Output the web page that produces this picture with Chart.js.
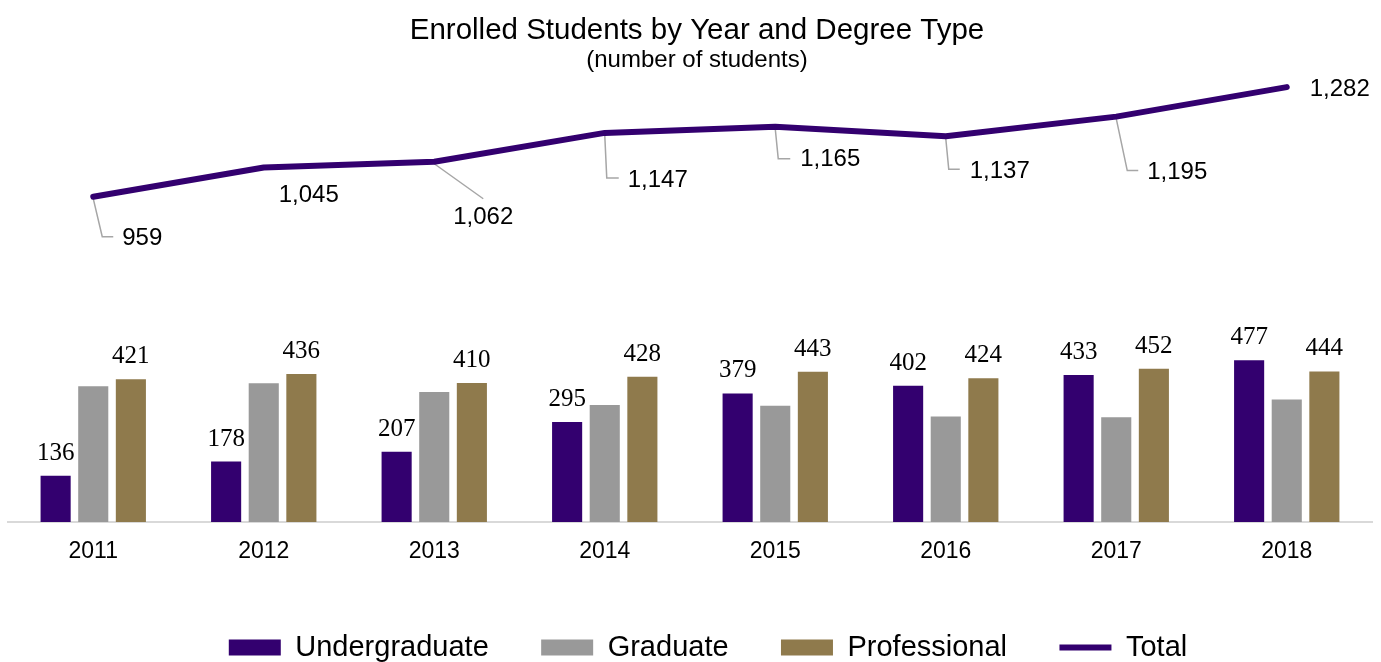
<!DOCTYPE html>
<html>
<head>
<meta charset="utf-8">
<script src="https://cdn.jsdelivr.net/npm/chart.js@4/dist/chart.umd.min.js"></script>
<style>
  html, body { margin: 0; padding: 0; background: #ffffff; }
  #wrap { width: 1381px; height: 662px; }
</style>
</head>
<body>
<div id="wrap"><canvas id="c" width="1381" height="662"></canvas></div>
<script>
// ---- data ----
const years = ['2011', '2012', '2013', '2014', '2015', '2016', '2017', '2018'];
const undergraduate = [136, 178, 207, 295, 379, 402, 433, 477];
const graduate = [400, 409, 383, 345, 343, 311, 309, 361];
const professional = [421, 436, 410, 428, 443, 424, 452, 444];
const total = [959, 1045, 1062, 1147, 1165, 1137, 1195, 1282];

const titleText = 'Enrolled Students by Year and Degree Type';
const subtitleText = '(number of students)';

// ---- styles ----
const PURPLE = '#33006F';
const GRAY = '#999999';
const GOLD = '#8F7A4C';
const SANS = '"Liberation Sans", Arial, sans-serif';
const SERIF = '"Liberation Serif", "Times New Roman", serif';

// label placement for the Total series (pixel offsets from each point)
const totalLabelPlacement = [
  { text: [29, 42], align: 'left', leader: [[0, 2], [9, 40], [20, 40]] },
  { text: [45, 28], align: 'center', leader: null },
  { text: [49, 56], align: 'center', leader: [[0, 2], [49, 37]] },
  { text: [23, 47], align: 'left', leader: [[0, 2], [2, 45], [14, 45]] },
  { text: [25, 33], align: 'left', leader: [[0, 2], [3, 32], [15, 32]] },
  { text: [24, 35], align: 'left', leader: [[0, 2], [3, 33], [14, 33]] },
  { text: [31, 56], align: 'left', leader: [[0, 2], [11, 54], [22, 54]] },
  { text: [23, 2], align: 'left', leader: null }
];

// horizontal nudges of the header and legend blocks
const blockShift = { title: 7, subtitle: 7, legend: 18 };

const fmt = v => v.toLocaleString('en-US');

const labelsPlugin = {
  id: 'customLabels',
  afterLayout(chart) {
    chart.boxes.forEach(b => {
      let s = 0;
      if (b === chart.legend) s = blockShift.legend;
      else if (b.options && b.options.text === titleText) s = blockShift.title;
      else if (b.options && b.options.text === subtitleText) s = blockShift.subtitle;
      if (s) { b.left += s; b.right += s; }
    });
  },
  beforeDatasetsDraw(chart) {
    const ctx = chart.ctx;
    const meta = chart.getDatasetMeta(3);
    ctx.save();
    ctx.strokeStyle = '#A6A6A6';
    ctx.lineWidth = 1.5;
    meta.data.forEach((pt, i) => {
      const p = totalLabelPlacement[i];
      if (!p.leader) return;
      ctx.beginPath();
      p.leader.forEach(([dx, dy], k) => {
        if (k === 0) ctx.moveTo(pt.x + dx, pt.y + dy);
        else ctx.lineTo(pt.x + dx, pt.y + dy);
      });
      ctx.stroke();
    });
    ctx.restore();
  },
  afterDatasetsDraw(chart) {
    const ctx = chart.ctx;
    ctx.save();
    // bar value labels (Undergraduate & Professional)
    ctx.font = '25px ' + SERIF;
    ctx.fillStyle = '#000000';
    ctx.textAlign = 'center';
    ctx.textBaseline = 'alphabetic';
    [0, 2].forEach(di => {
      const meta = chart.getDatasetMeta(di);
      const vals = chart.data.datasets[di].data;
      meta.data.forEach((bar, i) => {
        ctx.fillText(fmt(vals[i]), bar.x, bar.y - 16);
      });
    });
    // total labels
    ctx.font = '24px ' + SANS;
    ctx.textBaseline = 'middle';
    const meta = chart.getDatasetMeta(3);
    meta.data.forEach((pt, i) => {
      const p = totalLabelPlacement[i];
      ctx.textAlign = p.align;
      ctx.fillText(fmt(total[i]), pt.x + p.text[0], pt.y + p.text[1]);
    });
    ctx.restore();
  }
};

new Chart(document.getElementById('c'), {
  data: {
    labels: years,
    datasets: [
      { type: 'bar', label: 'Undergraduate', data: undergraduate, backgroundColor: PURPLE, borderWidth: 0, pointStyle: 'rect' },
      { type: 'bar', label: 'Graduate', data: graduate, backgroundColor: GRAY, borderWidth: 0, pointStyle: 'rect' },
      { type: 'bar', label: 'Professional', data: professional, backgroundColor: GOLD, borderWidth: 0, pointStyle: 'rect' },
      { type: 'line', label: 'Total', data: total, borderColor: PURPLE, backgroundColor: PURPLE,
        borderWidth: 6, pointRadius: 0, pointStyle: 'line', tension: 0,
        borderCapStyle: 'round', borderJoinStyle: 'round', fill: false }
    ]
  },
  options: {
    responsive: false,
    animation: false,
    events: [],
    layout: { padding: { left: 8, right: 9, top: 0, bottom: -10 } },
    datasets: {
      bar: { categoryPercentage: 0.662, barPercentage: 0.8 }
    },
    scales: {
      x: {
        offset: true,
        grid: { display: false, drawTicks: false },
        border: { display: true, color: '#D9D9D9', width: 2 },
        ticks: { color: '#000000', font: { family: SANS, size: 23 }, padding: 15.5 }
      },
      y: {
        display: false,
        min: 0,
        max: 1300
      }
    },
    plugins: {
      title: {
        display: true, text: titleText, color: '#000000',
        font: { family: SANS, size: 29.5, weight: 'normal', lineHeight: 1.2 },
        padding: { top: 13, bottom: 0 }
      },
      subtitle: {
        display: true, text: subtitleText, color: '#000000',
        font: { family: SANS, size: 24, weight: 'normal', lineHeight: 1.0 },
        padding: { top: 0, bottom: 8.6 }
      },
      legend: {
        position: 'bottom',
        labels: {
          color: '#000000',
          font: { family: SANS, size: 29 },
          usePointStyle: true,
          pointStyleWidth: 52,
          boxHeight: 16,
          padding: 52.4
        }
      },
      tooltip: { enabled: false }
    }
  },
  plugins: [labelsPlugin]
});
</script>
</body>
</html>
